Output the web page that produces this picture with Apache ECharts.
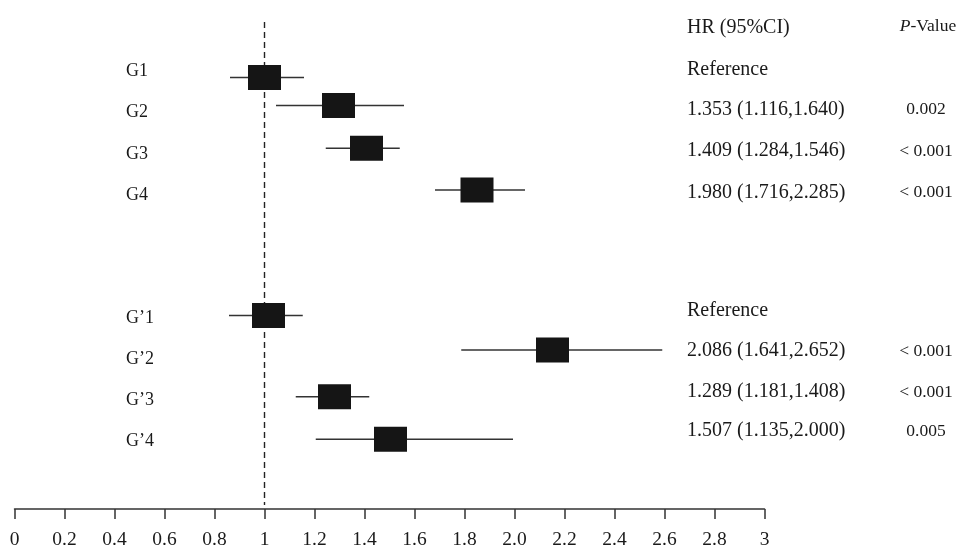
<!DOCTYPE html>
<html>
<head>
<meta charset="utf-8">
<script src="https://cdn.jsdelivr.net/npm/echarts@6/dist/echarts.min.js"></script>
<style>
html,body{margin:0;padding:0;background:#fff;}
#chart{width:960px;height:545px;}
</style>
</head>
<body>
<div id="chart"></div>
<script>
// ---- data ----
const groups = ['G1', 'G2', 'G3', 'G4', 'G\u20191', 'G\u20192', 'G\u20193', 'G\u20194'];
const labelRows = [1, 2, 3, 4, 7, 8, 9, 10];
const hrPoint = [1.00, 1.296, 1.408, 1.85, 1.016, 2.152, 1.28, 1.504];
const ciLow = [0.862, 1.046, 1.245, 1.682, 0.858, 1.787, 1.125, 1.205];
const ciHigh = [1.158, 1.558, 1.541, 2.042, 1.153, 2.591, 1.419, 1.994];
const markRows = [1.18, 1.86, 2.90, 3.92, 6.97, 7.81, 8.95, 9.98];
const hrTexts = ['Reference', '1.353 (1.116,1.640)', '1.409 (1.284,1.546)', '1.980 (1.716,2.285)',
                 'Reference', '2.086 (1.641,2.652)', '1.289 (1.181,1.408)', '1.507 (1.135,2.000)'];
const pTexts = ['', '0.002', '< 0.001', '< 0.001', '', '< 0.001', '< 0.001', '0.005'];
const textRows = [0.95, 1.92, 2.93, 3.94, 6.81, 7.80, 8.80, 9.75];
const headerRow = -0.06;
const refValue = 1;
const refLineRows = [-0.17, 11.58];
const tickLabels = ['0', '0.2', '0.4', '0.6', '0.8', '1', '1.2', '1.4', '1.6', '1.8',
                    '2.0', '2.2', '2.4', '2.6', '2.8', '3'];

// ---- layout constants ----
const ROW_PX = 41.1, ROW0_PX = 29, AXIS_PX = 509;
const yMin = -ROW0_PX / ROW_PX;
const yMax = (AXIS_PX - ROW0_PX) / ROW_PX;
const FONT = '"Liberation Serif", "DejaVu Serif", serif';
const TXT = '#1a1a1a';
const LABEL_X = 126, HR_X = 687, P_X = 926;
const TEXT_DY = 1.5;
const BOX_W = 33, BOX_H = 25;

const chart = echarts.init(document.getElementById('chart'), null, {renderer: 'canvas'});

const forestData = hrPoint.map((v, i) => [v, markRows[i], ciLow[i], ciHigh[i]]);
const labelData = groups.map((g, i) => [0, labelRows[i], i]);
const tableData = hrTexts.map((t, i) => [0, textRows[i], i]);

const option = {
  animation: false,
  backgroundColor: '#fff',
  grid: {left: 14.5, right: 195.5, top: 0, height: AXIS_PX, containLabel: false, outerBoundsMode: 'none'},
  xAxis: {
    type: 'value', min: 0, max: 3, interval: 0.2, position: 'bottom',
    axisLine: {show: true, onZero: false, lineStyle: {color: '#333', width: 1.5}},
    axisTick: {show: true, length: 10, lineStyle: {color: '#333', width: 1.5}},
    splitLine: {show: false},
    axisLabel: {
      margin: 21, color: TXT, fontFamily: FONT, fontSize: 19.5,
      formatter: v => tickLabels[Math.round(v / 0.2)]
    }
  },
  yAxis: {type: 'value', min: yMin, max: yMax, inverse: true, show: false},
  series: [
    {
      type: 'custom', name: 'ref', silent: true, z: 1,
      data: [[refValue, refLineRows[0], refLineRows[1]]],
      encode: {x: 0, y: [1, 2]},
      renderItem: (params, api) => {
        const a = api.coord([api.value(0), api.value(1)]);
        const b = api.coord([api.value(0), api.value(2)]);
        return {type: 'line', shape: {x1: a[0], y1: a[1], x2: b[0], y2: b[1]},
                style: {stroke: '#222', lineWidth: 1.4, lineDash: [6, 4]}};
      }
    },
    {
      type: 'custom', name: 'forest', z: 2,
      data: forestData,
      encode: {x: [0, 2, 3], y: 1},
      renderItem: (params, api) => {
        const y = api.value(1);
        const c = api.coord([api.value(0), y]);
        const lo = api.coord([api.value(2), y]);
        const hi = api.coord([api.value(3), y]);
        return {type: 'group', children: [
          {type: 'line', shape: {x1: lo[0], y1: lo[1], x2: hi[0], y2: hi[1]},
           style: {stroke: '#333', lineWidth: 1.5}},
          {type: 'rect', shape: {x: c[0] - BOX_W / 2, y: c[1] - BOX_H / 2, width: BOX_W, height: BOX_H},
           style: {fill: '#151515'}}
        ]};
      }
    },
    {
      type: 'custom', name: 'labels', z: 3,
      data: labelData,
      encode: {x: 0, y: 1},
      renderItem: (params, api) => {
        const p = api.coord([0, api.value(1)]);
        return {type: 'text', x: LABEL_X, y: p[1] + TEXT_DY,
                style: {text: groups[api.value(2)], fill: TXT, font: '18px ' + FONT,
                        textAlign: 'left', textVerticalAlign: 'middle'}};
      }
    },
    {
      type: 'custom', name: 'table', z: 3,
      data: tableData,
      encode: {x: 0, y: 1},
      renderItem: (params, api) => {
        const i = api.value(2);
        const p = api.coord([0, api.value(1)]);
        const children = [
          {type: 'text', x: HR_X, y: p[1] + TEXT_DY,
           style: {text: hrTexts[i], fill: TXT, font: '20px ' + FONT,
                   textAlign: 'left', textVerticalAlign: 'middle'}}
        ];
        if (pTexts[i]) {
          children.push({type: 'text', x: P_X, y: p[1] + TEXT_DY,
            style: {text: pTexts[i], fill: TXT, font: '17.5px ' + FONT,
                    textAlign: 'center', textVerticalAlign: 'middle'}});
        }
        return {type: 'group', children: children};
      }
    },
    {
      type: 'custom', name: 'header', z: 3,
      data: [[0, headerRow]],
      encode: {x: 0, y: 1},
      renderItem: (params, api) => {
        const p = api.coord([0, api.value(1)]);
        return {type: 'group', children: [
          {type: 'text', x: HR_X, y: p[1] + TEXT_DY,
           style: {text: 'HR (95%CI)', fill: TXT, font: '20px ' + FONT,
                   textAlign: 'left', textVerticalAlign: 'middle'}},
          {type: 'text', x: P_X + 2, y: p[1] - 2 + TEXT_DY,
           style: {text: '{i|P}-Value', fill: TXT, font: '17.5px ' + FONT,
                   textAlign: 'center', textVerticalAlign: 'middle',
                   rich: {i: {fontStyle: 'italic', fontFamily: FONT, fontSize: 17.5, fill: TXT}}}}
        ]};
      }
    }
  ]
};
chart.setOption(option);
</script>
</body>
</html>
